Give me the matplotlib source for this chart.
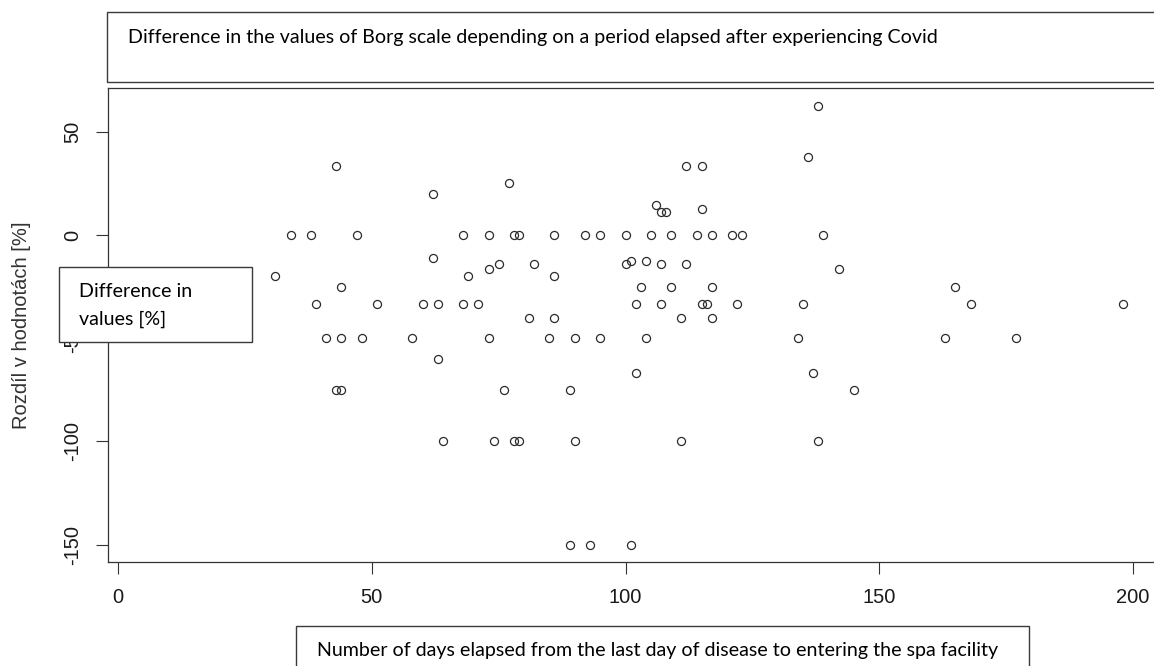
import matplotlib.pyplot as plt
from matplotlib.patches import Rectangle

# Days elapsed after Covid vs. difference in Borg scale values [%]
days = [138, 136, 43, 112, 115, 77, 62, 106, 115, 107, 108,
        34, 38, 47, 68, 73, 78, 79, 86, 92, 95, 100, 105, 109, 114, 117, 121, 123, 139,
        62, 75, 82, 100, 107, 112, 101, 104,
        73, 142,
        31, 69, 86,
        44, 103, 109, 117, 165,
        39, 51, 60, 63, 68, 71, 102, 107, 115, 116, 122, 135, 168, 198,
        81, 86, 111, 117,
        41, 44, 48, 58, 73, 85, 90, 95, 104, 134, 163, 177,
        63, 102, 137,
        43, 44, 76, 89, 145,
        64, 74, 78, 79, 90, 111, 138,
        89, 93, 101]
diff = [62.5, 37.5, 33.3, 33.3, 33.3, 25, 20, 14.3, 12.5, 11.1, 11.1,
        0, 0, 0, 0, 0, 0, 0, 0, 0, 0, 0, 0, 0, 0, 0, 0, 0, 0,
        -11.1, -14.3, -14.3, -14.3, -14.3, -14.3, -12.5, -12.5,
        -16.7, -16.7,
        -20, -20, -20,
        -25, -25, -25, -25, -25,
        -33.3, -33.3, -33.3, -33.3, -33.3, -33.3, -33.3, -33.3, -33.3, -33.3, -33.3, -33.3, -33.3, -33.3,
        -40, -40, -40, -40,
        -50, -50, -50, -50, -50, -50, -50, -50, -50, -50, -50, -50,
        -60, -66.7, -66.7,
        -75, -75, -75, -75, -75,
        -100, -100, -100, -100, -100, -100, -100,
        -150, -150, -150]

x_ticks = [0, 50, 100, 150, 200]
y_ticks = [-150, -100, -50, 0, 50]

title = "Difference in the values of Borg scale depending on a period elapsed after experiencing Covid"
x_note = "Number of days elapsed from the last day of disease to entering the spa facility"
y_note = ["Difference in", "values [%]"]
y_label = "Rozdíl v hodnotách [%]"

W, H = 1154, 666
fig = plt.figure(figsize=(W / 100, H / 100), dpi=100)
ax = fig.add_axes([107.7 / W, 1 - 562.3 / H, (1160 - 107.7) / W, (562.3 - 88.3) / H])

ax.plot(days, diff, 'o', ls='none', mfc='none', mec='#2b2b2b', ms=5.8, mew=0.9)

ax.set_xlim(-2.03, 205.3)
ax.set_ylim(-158.5, 71.0)
ax.set_xticks(x_ticks)
ax.set_yticks(y_ticks)
ax.set_xticklabels([str(t) for t in x_ticks], fontsize=14.5, family='Liberation Sans', color='#1a1a1a')
ax.set_yticklabels([str(t) for t in y_ticks], fontsize=14.5, family='Liberation Sans', color='#1a1a1a',
                   rotation=90, va='center')
ax.tick_params(axis='both', direction='out', length=8.4, width=0.8, color='#333333')
ax.tick_params(axis='x', pad=10)
ax.tick_params(axis='y', pad=10)
for s in ax.spines.values():
    s.set_color('#333333')
    s.set_linewidth(0.9)

fig.text(22 / W, 1 - 325 / H, y_label, rotation=90, ha='center', va='center',
         fontsize=14.5, family='Liberation Sans', color='#333333')


# white text boxes laid over the chart (pixel coords, y from top)
def note_box(x0, y0, x1, y1):
    r = Rectangle((x0 / W, 1 - y1 / H), (x1 - x0) / W, (y1 - y0) / H, transform=fig.transFigure,
                  fc='white', ec='#3a3a3a', lw=1.0, zorder=5)
    fig.add_artist(r)


def note_text(x, y, s):
    fig.text(x / W, 1 - y / H, s, ha='left', va='baseline', fontsize=14.1, family='Lato',
             color='black', zorder=6)


note_box(106.7, 12.3, 1170, 82.3)
note_text(127.7, 43.3, title)

note_box(59.3, 266.7, 251.7, 342.3)
note_text(79.3, 297.3, y_note[0])
note_text(79.3, 325, y_note[1])

note_box(296, 625.7, 1029, 690)
note_text(316.7, 656, x_note)

fig.savefig('out.png', dpi=100)
